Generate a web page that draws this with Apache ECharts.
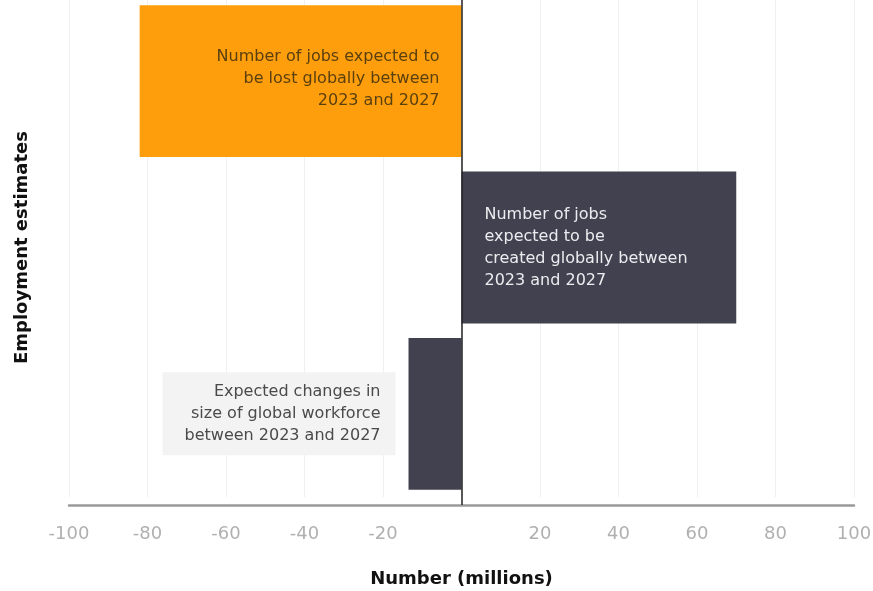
<!DOCTYPE html>
<html>
<head>
<meta charset="utf-8">
<script src="https://cdn.jsdelivr.net/npm/echarts@6/dist/echarts.min.js"></script>
<style>
    html, body { margin: 0; padding: 0; background: #fff; }
    #chart { width: 873px; height: 591px; }
</style>
</head>
<body>
<div id="chart"></div>
<script>
    // 数据
    var categories = ['Jobs lost', 'Jobs created', 'Net change'];
    var values = [-82, 70, -13.5];
    var barLabels = [
        'Number of jobs expected to\nbe lost globally between\n2023 and 2027',
        'Number of jobs\nexpected to be\ncreated globally between\n2023 and 2027',
        'Expected changes in\nsize of global workforce\nbetween 2023 and 2027'
    ];
    var xTicks = [-100, -80, -60, -40, -20, 0, 20, 40, 60, 80, 100];

    var font = '"DejaVu Sans", sans-serif';
    var orange = '#ff9e0c';
    var dark = '#41414f';

    var chart = echarts.init(document.getElementById('chart'));

    var labelStyles = [
        {
            show: true,
            position: 'insideRight',
            distance: 22,
            offset: [0, -2],
            align: 'right',
            color: '#5a400f',
            fontSize: 16,
            lineHeight: 22,
            fontFamily: font
        },
        {
            show: true,
            position: 'insideLeft',
            distance: 23,
            align: 'left',
            color: '#ececf0',
            fontSize: 16,
            lineHeight: 22,
            fontFamily: font
        },
        {
            show: true,
            position: 'left',
            distance: 13,
            align: 'right',
            color: '#4a4a4a',
            fontSize: 16,
            lineHeight: 22,
            fontFamily: font,
            backgroundColor: '#f3f3f3',
            padding: [8, 15, 9, 22]
        }
    ];
    var barColors = [orange, dark, dark];

    var seriesData = values.map(function (v, i) {
        var lbl = Object.assign({}, labelStyles[i], {
            formatter: barLabels[i]
        });
        return {
            value: v,
            itemStyle: { color: barColors[i] },
            label: lbl
        };
    });

    chart.setOption({
        animation: false,
        grid: {
            left: 69,
            right: 19,
            top: -2,
            bottom: 94,
            outerBoundsMode: 'none'
        },
        xAxis: [
            {
                type: 'value',
                min: xTicks[0],
                max: xTicks[xTicks.length - 1],
                interval: 20,
                offset: 8,
                name: 'Number (millions)',
                nameLocation: 'middle',
                nameGap: 65,
                nameTextStyle: {
                    fontSize: 18,
                    fontWeight: 'bold',
                    color: '#111',
                    fontFamily: font
                },
                axisLine: {
                    show: true,
                    onZero: false,
                    lineStyle: { color: '#9a9a9a', width: 2.5 }
                },
                // 只在0处画一小段，把零线接到x轴上
                axisTick: {
                    show: true,
                    customValues: [0],
                    inside: true,
                    length: 8,
                    lineStyle: { color: '#222', width: 1.5 }
                },
                axisLabel: {
                    margin: 20,
                    fontSize: 18,
                    color: '#b0b0b0',
                    fontFamily: font,
                    formatter: function (v) {
                        if (v === 0) { return ''; }
                        return v;
                    }
                },
                splitLine: { show: false }
            },
            // 网格竖线
            {
                type: 'value',
                position: 'top',
                min: xTicks[0],
                max: xTicks[xTicks.length - 1],
                interval: 20,
                axisLine: { show: false },
                axisTick: { show: false },
                axisLabel: { show: false },
                splitLine: {
                    show: true,
                    lineStyle: { color: '#f0f0f0', width: 1 }
                }
            }
        ],
        yAxis: {
            type: 'category',
            data: categories,
            inverse: true,
            name: 'Employment estimates',
            nameLocation: 'middle',
            nameGap: 38,
            nameTextStyle: {
                fontSize: 18,
                fontWeight: 'bold',
                color: '#111',
                fontFamily: font
            },
            axisLine: { show: false, onZero: false },
            axisTick: { show: false },
            axisLabel: { show: false },
            splitLine: { show: false }
        },
        series: [
            {
                type: 'bar',
                xAxisIndex: 0,
                data: seriesData,
                barCategoryGap: '8.7%',
                markLine: {
                    silent: true,
                    symbol: 'none',
                    label: { show: false },
                    lineStyle: { color: '#222', width: 1.5, type: 'solid' },
                    data: [{ xAxis: 0 }]
                }
            }
        ]
    });
</script>
</body>
</html>
